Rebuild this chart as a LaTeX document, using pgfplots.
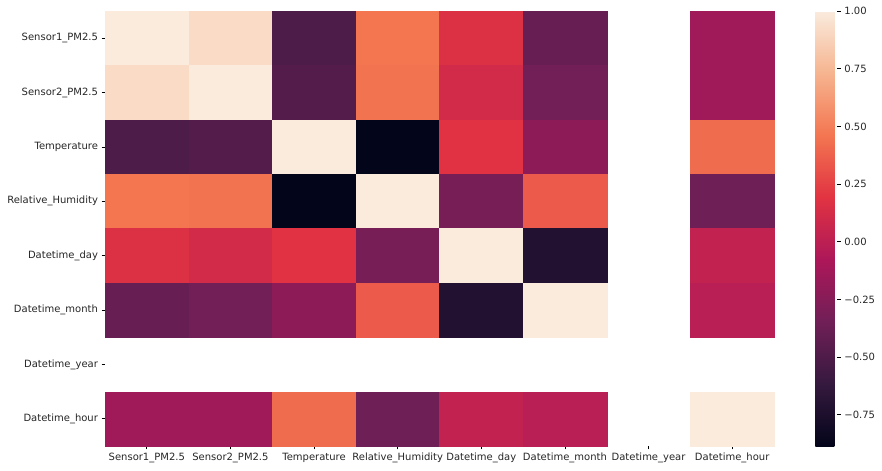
\documentclass[border=0pt]{standalone}
\usepackage{fontspec}
\setmainfont{DejaVu Sans}
\usepackage{pgfplots}
\usepackage{pgfplotstable}
\pgfplotsset{compat=1.18}

% correlation matrix: x = column, y = 7 - row (Datetime_year, index 6, is NaN)
\pgfplotstableread{
x y c
0 7 1
1 7 0.92
2 7 -0.50
3 7 0.46
4 7 0.165
5 7 -0.39
7 7 -0.135
0 6 0.92
1 6 1
2 6 -0.48
3 6 0.45
4 6 0.11
5 6 -0.34
7 6 -0.135
0 5 -0.50
1 5 -0.48
2 5 1
3 5 -0.885
4 5 0.185
5 5 -0.22
7 5 0.42
0 4 0.46
1 4 0.45
2 4 -0.885
3 4 1
4 4 -0.31
5 4 0.35
7 4 -0.36
0 3 0.165
1 3 0.11
2 3 0.185
3 3 -0.31
4 3 1
5 3 -0.72
7 3 0.03
0 2 -0.39
1 2 -0.34
2 2 -0.22
3 2 0.35
4 2 -0.72
5 2 1
7 2 -0.015
0 0 -0.135
1 0 -0.135
2 0 0.42
3 0 -0.36
4 0 0.03
5 0 -0.015
7 0 1
}\corr

\pgfplotsset{
  colormap={rocket}{rgb255=(3,5,26) rgb255=(53,25,62) rgb255=(112,31,87)
    rgb255=(173,23,89) rgb255=(225,51,66) rgb255=(243,118,81)
    rgb255=(246,180,143) rgb255=(250,235,221)},
}

\begin{document}
\fontsize{7.5}{9}\selectfont
\begin{tikzpicture}
% page = 882 x 471 px at 0.75pt per px; axis box from (105,11) to (774,446) px
\useasboundingbox (-78.75pt,-18.75pt) rectangle (582.75pt,334.5pt);
\begin{axis}[
  anchor=south west,
  scale only axis, width=501.75pt, height=326.25pt,
  xmin=-0.5, xmax=7.5, ymin=-0.5, ymax=7.5,
  xtick={0,...,7}, ytick={0,...,7},
  xticklabels={Sensor1\_PM2.5, Sensor2\_PM2.5, Temperature, Relative\_Humidity,
    Datetime\_day, Datetime\_month, Datetime\_year, Datetime\_hour},
  yticklabels={Datetime\_hour, Datetime\_year, Datetime\_month, Datetime\_day,
    Relative\_Humidity, Temperature, Sensor2\_PM2.5, Sensor1\_PM2.5},
  axis line style={draw=none},
  tick align=outside, major tick length=2.6pt,
  tick style={black, line width=0.6pt},
  xtick pos=bottom, ytick pos=left,
  tick label style={font=\fontsize{7.5}{9}\selectfont, text=black!85},
  point meta min=-0.885, point meta max=1,
  colormap name=rocket,
  colorbar,
  colorbar style={
    at={(parent axis.north east)}, anchor=north west, xshift=22.5pt,
    scale only axis, width=16.5pt, height=326.25pt,
    axis line style={draw=none},
    ytick={-0.75,-0.5,-0.25,0,0.25,0.5,0.75,1},
    yticklabels={−0.75, −0.50, −0.25, 0.00, 0.25, 0.50, 0.75, 1.00},
    tick align=outside, major tick length=2.6pt,
    tick style={black, line width=0.6pt},
    ytick pos=right,
    tick label style={font=\fontsize{7.5}{9}\selectfont, text=black!85},
  },
]
\addplot[scatter, only marks, point meta=explicit,
  mark=square*, mark size=1pt,
  mark options={xscale=31.36, yscale=20.39, line width=0.1pt},
  scatter/use mapped color={draw=mapped color, fill=mapped color}]
  table[x=x, y=y, meta=c] {\corr};
\end{axis}
\end{tikzpicture}
\end{document}
